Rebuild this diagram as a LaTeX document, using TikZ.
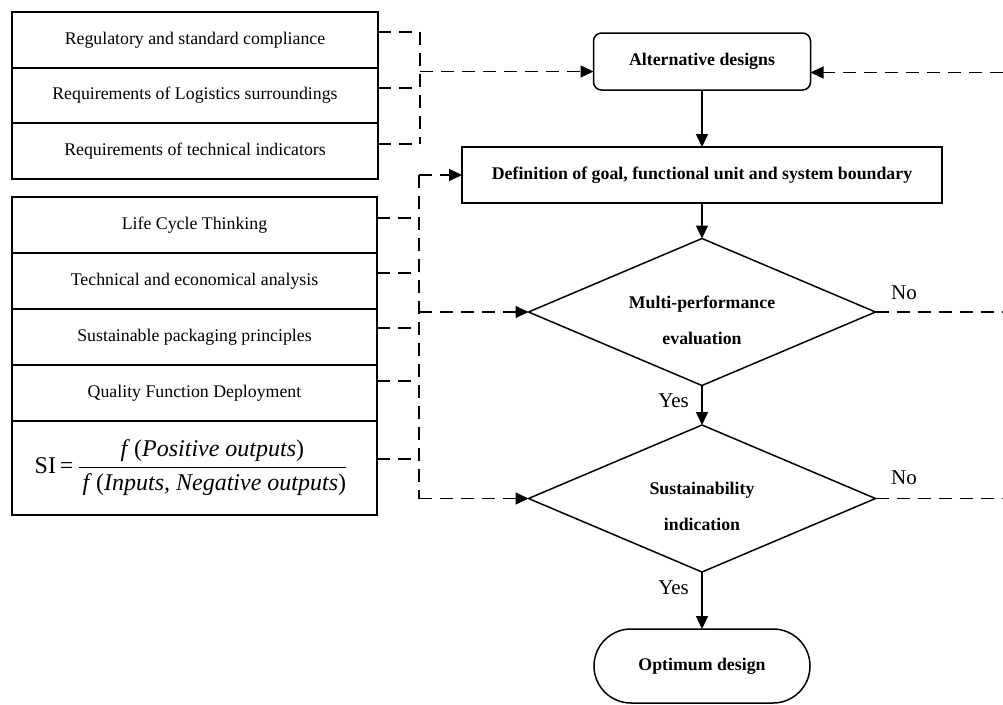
\documentclass[tikz,border=0pt]{standalone}
\usepackage{fontspec}
\setmainfont{Liberation Serif}
\usetikzlibrary{shapes.geometric,arrows.meta}
\begin{document}
\begin{tikzpicture}[x=1pt,y=-1pt,
  rowbox/.style={draw,line width=1.5pt,inner sep=0,outer sep=0,font=\fontsize{17.8}{21}\selectfont},
  flowbox/.style={draw,line width=1.5pt,inner sep=0,outer sep=0,font=\fontsize{17.8}{21}\selectfont\bfseries},
  dia/.style={draw,diamond,line width=1.5pt,minimum width=347pt,minimum height=147pt,inner sep=0,outer sep=0},
  dtext/.style={align=center,inner sep=0,font=\fontsize{17.8}{36}\selectfont\bfseries},
  dashline/.style={line width=1.5pt,dash pattern=on 13pt off 8pt},
  solidline/.style={line width=1.5pt},
  arr/.style={-{Triangle[length=13pt,width=12pt]}},
  lbl/.style={font=\fontsize{21}{24}\selectfont,inner sep=0}]
\useasboundingbox (0,0) rectangle (1003,704);

% left group 1
\node[rowbox,minimum width=366pt,minimum height=56pt] (r1) at (195,40) {Regulatory and standard compliance};
\node[rowbox,minimum width=366pt,minimum height=55pt] (r2) at (195,95.5) {Requirements of Logistics surroundings};
\node[rowbox,minimum width=366pt,minimum height=56pt] (r3) at (195,151) {Requirements of technical indicators};

% left group 2
\node[rowbox,minimum width=365pt,minimum height=56pt] (q1) at (194.5,225) {Life Cycle Thinking};
\node[rowbox,minimum width=365pt,minimum height=56pt] (q2) at (194.5,281) {Technical and economical analysis};
\node[rowbox,minimum width=365pt,minimum height=56pt] (q3) at (194.5,337) {Sustainable packaging principles};
\node[rowbox,minimum width=365pt,minimum height=56pt] (q4) at (194.5,393) {Quality Function Deployment};
\node[rowbox,minimum width=365pt,minimum height=94pt] (q5) at (194.5,468) {};
\node[inner sep=0,font=\fontsize{24}{28}\selectfont] (si) at (191,468)
  {SI\,=\,$\displaystyle\frac{\mbox{\textit{f}\,(\textit{Positive outputs})}}{\mbox{\,\textit{f}\,(\textit{Inputs, Negative outputs})}}$};

% flow chart
\node[flowbox,rounded corners=8pt,minimum width=217pt,minimum height=57pt] (alt) at (702,61.5) {Alternative designs};
\node[flowbox,minimum width=480pt,minimum height=56pt] (def) at (702,175) {Definition of goal, functional unit and system boundary};
\node[dia] (multi) at (702,312) {};
\node[dtext] (multitxt) at (702,320) {Multi-performance\\evaluation};
\node[dia] (sust) at (702,498.5) {};
\node[dtext] (susttxt) at (702,506) {Sustainability\\indication};
\node[flowbox,rounded corners=37pt,minimum width=216pt,minimum height=74pt] (opt) at (702,666) {Optimum design};

\draw[solidline,arr] (alt) -- (def);
\draw[solidline,arr] (def) -- (multi);
\draw[solidline,arr] (multi) -- (sust);
\draw[solidline,arr] (sust) -- (opt);

\node[lbl,anchor=east] (yes1) at (689,401) {Yes};
\node[lbl,anchor=east] (yes2) at (689,588) {Yes};
\node[lbl,anchor=west] (no1) at (891,292.5) {No};
\node[lbl,anchor=west] (no2) at (891,478) {No};

% bus coordinates
\coordinate (bus1) at (420,0);
\coordinate (bus2) at (419,0);
\coordinate (rbus) at (1003,0);

% group 1 dashed connectors
\draw[dashline] ([yshift=8pt]r1.east) -- ([yshift=8pt]r1.east -| bus1);
\draw[dashline] ([yshift=7.5pt]r2.east) -- ([yshift=7.5pt]r2.east -| bus1);
\draw[dashline] ([yshift=7pt]r3.east) -- ([yshift=7pt]r3.east -| bus1);
\draw[dashline] ([yshift=8pt]r1.east -| bus1) -- ([yshift=7pt]r3.east -| bus1);
\draw[dashline,arr] ([yshift=-10pt]alt.west -| bus1) -- ([yshift=-10pt]alt.west);

% group 2 dashed connectors
\draw[dashline] ([yshift=7pt]q1.east) -- ([yshift=7pt]q1.east -| bus2);
\draw[dashline] ([yshift=8pt]q2.east) -- ([yshift=8pt]q2.east -| bus2);
\draw[dashline] ([yshift=9pt]q3.east) -- ([yshift=9pt]q3.east -| bus2);
\draw[dashline] ([yshift=12pt]q4.east) -- ([yshift=12pt]q4.east -| bus2);
\draw[dashline] ([yshift=9pt]q5.east) -- ([yshift=9pt]q5.east -| bus2);
\draw[dashline] (def.west -| bus2) -- (sust.west -| bus2);
\draw[dashline,arr] (def.west -| bus2) -- (def.west);
\draw[dashline,arr] (multi.west -| bus2) -- (multi.west);
\draw[dashline,arr] (sust.west -| bus2) -- (sust.west);

% right side dashed feedback
\draw[dashline] (multi.east) -- (multi.east -| rbus);
\draw[dashline] (sust.east) -- (sust.east -| rbus);
\draw[dashline,arr] ([yshift=-11pt]alt.east -| rbus) -- ([yshift=-11pt]alt.east);
\end{tikzpicture}
\end{document}
